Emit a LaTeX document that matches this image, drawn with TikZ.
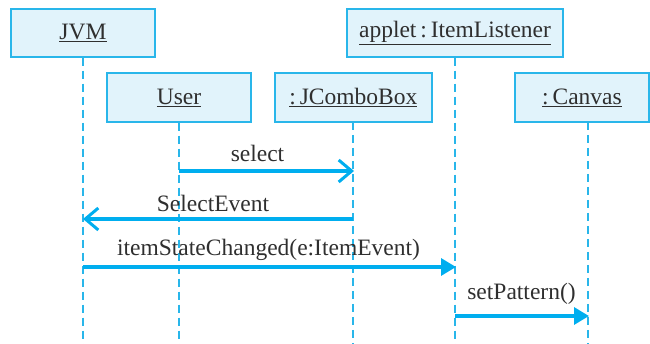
\documentclass[tikz,border=0pt]{standalone}
\usepackage{fontspec}
\setmainfont{Liberation Serif}
\usetikzlibrary{arrows.meta}
\definecolor{boxfill}{HTML}{E1F3FB}
\definecolor{boxdraw}{HTML}{29B6EA}
\definecolor{arrowc}{HTML}{00AEEF}
\definecolor{txt}{HTML}{2F2F2F}
\tikzset{
  obj/.style={draw=boxdraw, fill=boxfill, line width=1.5pt, minimum height=48pt, inner sep=0pt, text=txt, font=\fontsize{23.5}{27}\selectfont},
  life/.style={draw=boxdraw, line width=1.4pt, dash pattern=on 8pt off 5pt},
  msgopen/.style={draw=arrowc, line width=3.2pt, -{Straight Barb[length=13pt,width=22pt,line width=3pt]}},
  msgfill/.style={draw=arrowc, line width=3.2pt, -{Triangle[length=15pt,width=17pt]}, fill=arrowc},
  lbl/.style={text=txt, font=\fontsize{23.5}{27}\selectfont, inner sep=0pt, anchor=base}
}
\begin{document}
\begin{tikzpicture}[x=1pt,y=-1pt]
\useasboundingbox (0,0) rectangle (650,344);
\node[obj, minimum width=144pt] (jvm) at (83,33) {\underline{JVM}};
\node[obj, minimum width=144pt, minimum height=49pt] (user) at (179,97.5) {\underline{User}};
\node[obj, minimum width=157pt, minimum height=49pt] (combo) at (353.3,97.5) {\underline{:\,JComboBox}};
\node[obj, minimum width=216pt] (applet) at (455,33) {\underline{applet\,:\,ItemListener}};
\node[obj, minimum width=134pt, minimum height=49pt] (canvas) at (582,97.5) {\underline{:\,Canvas}};

\coordinate (jvmE) at (83,344);
\coordinate (userE) at (179,344);
\coordinate (comboE) at (353,344);
\coordinate (appletE) at (455,344);
\coordinate (canvasE) at (588,344);
\draw[life] (jvm.south) -- (jvmE);
\draw[life] (user.south) -- (userE);
\draw[life] (353,122) -- (comboE);
\draw[life] (applet.south) -- (appletE);
\draw[life] (588,122) -- (canvasE);

\coordinate (s1) at (179,171); \coordinate (e1) at (354,171);
\coordinate (s2) at (353,219); \coordinate (e2) at (83,219);
\coordinate (s3) at (83,267); \coordinate (e3) at (456,267);
\coordinate (s4) at (455,316); \coordinate (e4) at (589,316);
\draw[msgopen] (s1) -- (e1);
\draw[msgopen] (s2) -- (e2);
\draw[msgfill] (s3) -- (e3);
\draw[msgfill] (s4) -- (e4);

\node[lbl] (l1) at (257.5,162) {select};
\node[lbl] (l2) at (213,212) {SelectEvent};
\node[lbl] (l3) at (268.5,256) {itemStateChanged(e:ItemEvent)};
\node[lbl] (l4) at (521.5,300) {setPattern()};
\end{tikzpicture}
\end{document}
